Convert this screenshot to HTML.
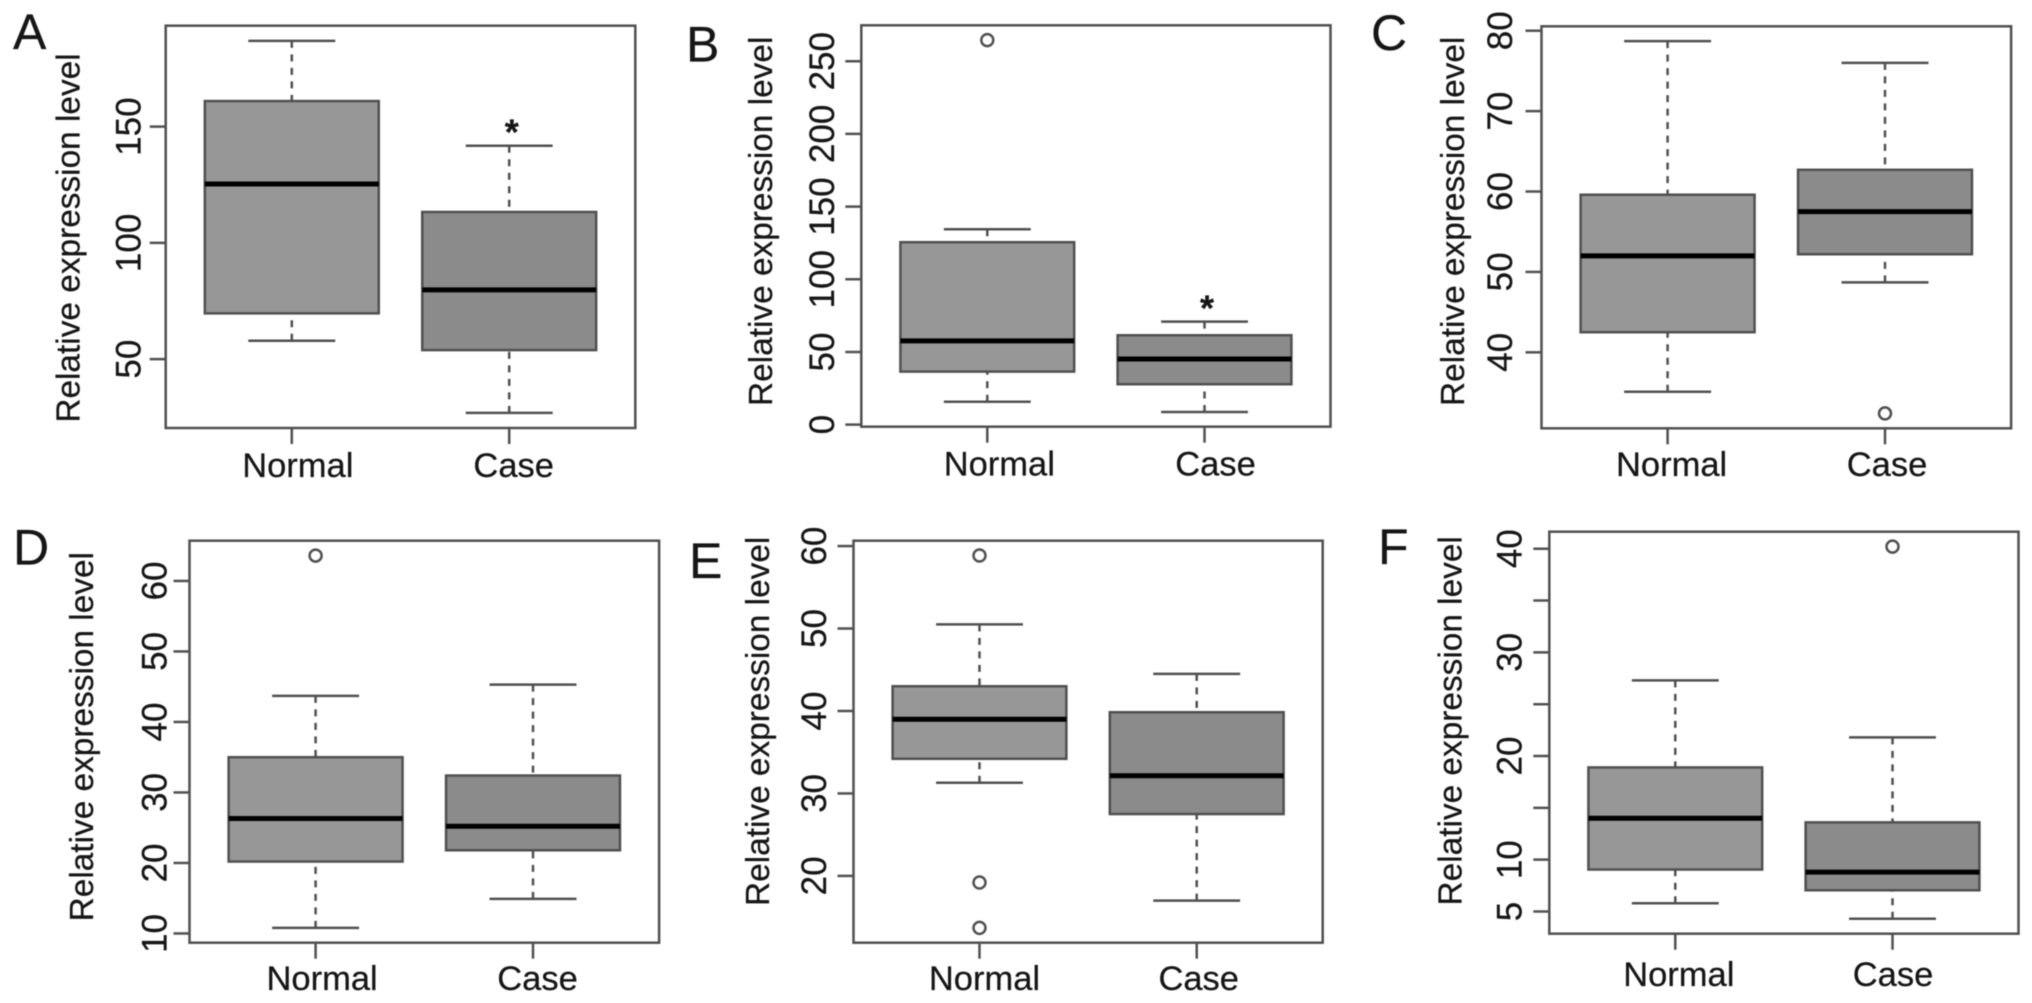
<!DOCTYPE html>
<html lang="en">
<head>
<meta charset="utf-8">
<title>Relative expression level box plots</title>
<style>
  html, body { margin: 0; padding: 0; background: #fff; }
  #figure { display: block; width: 2032px; height: 1003px; filter: blur(0.55px); }
  text { font-family: "Liberation Sans", sans-serif; fill: #161616; stroke: #161616; stroke-width: 0.25px; }
</style>
</head>
<body>
<svg id="figure" xmlns="http://www.w3.org/2000/svg" width="2032" height="1003" viewBox="0 0 2032 1003"></svg>
<script>
// ---- Data: each five-number array is [lower whisker, Q1, median, Q3, upper whisker]
const categories = ['Normal', 'Case'];
const yAxisTitle = 'Relative expression level';

const normalA = [57.9, 69.7, 125.3, 161, 186.9];
const caseA = [26.9, 53.9, 79.8, 113.3, 141.8];
const outliersNormalA = [];
const outliersCaseA = [];
const significantA = [false, true];
const domainA = [20.4, 193.4];
const ticksA = [50, 100, 150];
const tickLabelsA = ['50', '100', '150'];

const normalB = [15.8, 36.5, 57.6, 125.5, 134.4];
const caseB = [8.7, 27.8, 45.2, 61.5, 70.9];
const outliersNormalB = [264.5];
const outliersCaseB = [];
const significantB = [false, true];
const domainB = [-1.4, 274.7];
const ticksB = [0, 50, 100, 150, 200, 250];
const tickLabelsB = ['0', '50', '100', '150', '200', '250'];

const normalC = [35.1, 42.5, 52, 59.6, 78.7];
const caseC = [48.7, 52.2, 57.5, 62.7, 76];
const outliersNormalC = [];
const outliersCaseC = [32.4];
const significantC = [false, false];
const domainC = [30.55, 80.55];
const ticksC = [40, 50, 60, 70, 80];
const tickLabelsC = ['40', '50', '60', '70', '80'];

const normalD = [10.8, 20.2, 26.3, 35, 43.7];
const caseD = [14.9, 21.8, 25.2, 32.4, 45.3];
const outliersNormalD = [63.6];
const outliersCaseD = [];
const significantD = [false, false];
const domainD = [8.69, 65.71];
const ticksD = [10, 20, 30, 40, 50, 60];
const tickLabelsD = ['10', '20', '30', '40', '50', '60'];

const normalE = [31.3, 34.2, 39, 43, 50.5];
const caseE = [17, 27.5, 32.15, 39.85, 44.5];
const outliersNormalE = [58.85, 19.2, 13.7];
const outliersCaseE = [];
const significantE = [false, false];
const domainE = [11.9, 60.65];
const ticksE = [20, 30, 40, 50, 60];
const tickLabelsE = ['20', '30', '40', '50', '60'];

const normalF = [5.8, 9.05, 14, 18.9, 27.3];
const caseF = [4.3, 7.05, 8.8, 13.6, 21.8];
const outliersNormalF = [];
const outliersCaseF = [40.2];
const significantF = [false, false];
const domainF = [2.86, 41.64];
const ticksF = [5, 10, 15, 20, 25, 30, 35, 40];
const tickLabelsF = ['5', '10', '', '20', '', '30', '', '40'];

// ---- Layout
const panelLetters = ['A', 'B', 'C', 'D', 'E', 'F'];
const layoutA = { left: 165.7, right: 635.3, top: 25.7, bottom: 428, letterX: 13, letterY: 49, titleX: 79.4, titleY: 238, tickLabelX: 140.5, catY: 477, catDx: [6, 4.5] };
const layoutB = { left: 861.3, right: 1330.5, top: 25.3, bottom: 426.7, letterX: 686, letterY: 61.7, titleX: 772, titleY: 221.3, tickLabelX: 834, catY: 475.5, catDx: [12, 11] };
const layoutC = { left: 1541.5, right: 2011.1, top: 26.3, bottom: 428.3, letterX: 1371, letterY: 50, titleX: 1463.9, titleY: 221.3, tickLabelX: 1512, catY: 476, catDx: [4, 2] };
const layoutD = { left: 189.5, right: 659.1, top: 540.7, bottom: 942.7, letterX: 13, letterY: 564.7, titleX: 93.2, titleY: 736.7, tickLabelX: 166.5, catY: 990, catDx: [6.5, 4.5] };
const layoutE = { left: 853.5, right: 1322.7, top: 540.7, bottom: 942.7, letterX: 689, letterY: 578, titleX: 768.9, titleY: 721.3, tickLabelX: 826, catY: 990, catDx: [5, 2] };
const layoutF = { left: 1549.3, right: 2018.5, top: 531.7, bottom: 933.7, letterX: 1378, letterY: 564, titleX: 1461.7, titleY: 720.8, tickLabelX: 1521.5, catY: 986, catDx: [3.5, 0.5] };

const panels = [
  { five: [normalA, caseA], out: [outliersNormalA, outliersCaseA], sig: significantA, domain: domainA, ticks: ticksA, labels: tickLabelsA, box: layoutA },
  { five: [normalB, caseB], out: [outliersNormalB, outliersCaseB], sig: significantB, domain: domainB, ticks: ticksB, labels: tickLabelsB, box: layoutB },
  { five: [normalC, caseC], out: [outliersNormalC, outliersCaseC], sig: significantC, domain: domainC, ticks: ticksC, labels: tickLabelsC, box: layoutC },
  { five: [normalD, caseD], out: [outliersNormalD, outliersCaseD], sig: significantD, domain: domainD, ticks: ticksD, labels: tickLabelsD, box: layoutD },
  { five: [normalE, caseE], out: [outliersNormalE, outliersCaseE], sig: significantE, domain: domainE, ticks: ticksE, labels: tickLabelsE, box: layoutE },
  { five: [normalF, caseF], out: [outliersNormalF, outliersCaseF], sig: significantF, domain: domainF, ticks: ticksF, labels: tickLabelsF, box: layoutF }
];

const fills = ['#979797', '#8b8b8b'];
const lineColor = '#505050';
const NS = 'http://www.w3.org/2000/svg';
const root = document.getElementById('figure');

function make(parent, tag, name, attrs, content) {
  const el = document.createElementNS(NS, tag);
  
  
  for (const key in attrs) {
    el.setAttribute(key, attrs[key]);
  }
  if (content !== undefined) {
    el.textContent = content;
  }
  parent.appendChild(el);
  return el;
}

function line(parent, name, x1, y1, x2, y2, extra) {
  return make(parent, 'line', name, Object.assign({
    x1: x1, y1: y1, x2: x2, y2: y2,
    stroke: lineColor, 'stroke-width': 2.5
  }, extra || {}));
}

panels.forEach(function (p, pi) {
  const b = p.box;
  const id = panelLetters[pi].toLowerCase();
  const g = make(root, 'g', 'panel-' + id, {});

  // Axis functions: R-style x limits 0.42..2.58 for two groups
  const xPos = function (i) { return b.left + ((i + 1) - 0.42) / 2.16 * (b.right - b.left); };
  const unit = (b.right - b.left) / 2.16;
  const yPos = function (v) { return b.bottom - (v - p.domain[0]) / (p.domain[1] - p.domain[0]) * (b.bottom - b.top); };

  make(g, 'text', 'panel-label-' + id, { x: b.letterX, y: b.letterY, 'font-size': 50 }, panelLetters[pi]);

  make(g, 'text', 'y-axis-title-' + id, {
    x: b.titleX, y: b.titleY, 'font-size': 33.4, 'text-anchor': 'middle',
    transform: 'rotate(-90 ' + b.titleX + ' ' + b.titleY + ')'
  }, yAxisTitle);

  // Y axis ticks and labels
  p.ticks.forEach(function (t, ti) {
    const y = yPos(t);
    line(g, 'y-tick-' + id + '-' + t, b.left - 16, y, b.left, y);
    if (p.labels[ti]) {
      make(g, 'text', 'y-tick-label-' + id + '-' + t, {
        x: b.tickLabelX, y: y, 'font-size': 35, 'text-anchor': 'middle',
        transform: 'rotate(-90 ' + b.tickLabelX + ' ' + y + ')'
      }, p.labels[ti]);
    }
  });

  // Boxes
  categories.forEach(function (cat, ci) {
    const key = cat.toLowerCase();
    const cx = xPos(ci);
    const f = p.five[ci];
    const halfBox = unit * 0.4;
    const halfCap = unit * 0.2;
    const series = make(g, 'g', 'box-' + key + '-' + id, {});

    const dash = { 'stroke-dasharray': '7 6.5' };
    line(series, 'upper-whisker-' + key + '-' + id, cx, yPos(f[4]), cx, yPos(f[3]), dash);
    line(series, 'lower-whisker-' + key + '-' + id, cx, yPos(f[0]), cx, yPos(f[1]), dash);
    line(series, 'upper-cap-' + key + '-' + id, cx - halfCap, yPos(f[4]), cx + halfCap, yPos(f[4]));
    line(series, 'lower-cap-' + key + '-' + id, cx - halfCap, yPos(f[0]), cx + halfCap, yPos(f[0]));

    make(series, 'rect', 'iqr-box-' + key + '-' + id, {
      x: cx - halfBox, y: yPos(f[3]), width: halfBox * 2, height: yPos(f[1]) - yPos(f[3]),
      fill: fills[ci], stroke: lineColor, 'stroke-width': 2.5
    });
    line(series, 'median-' + key + '-' + id, cx - halfBox, yPos(f[2]), cx + halfBox, yPos(f[2]), {
      stroke: '#000', 'stroke-width': 5
    });

    p.out[ci].forEach(function (v, oi) {
      make(series, 'circle', 'outlier-' + key + '-' + id + '-' + oi, {
        cx: cx, cy: yPos(v), r: 6, fill: 'none', stroke: lineColor, 'stroke-width': 2.5
      });
    });

    if (p.sig[ci]) {
      make(series, 'text', 'significance-star-' + id, {
        x: cx + 2.5, y: yPos(f[4]) - 1, 'font-size': 36, 'font-weight': 'bold', 'text-anchor': 'middle'
      }, '*');
    }

    // X axis tick and label
    line(g, 'x-tick-' + key + '-' + id, cx, b.bottom, cx, b.bottom + 16);
    make(g, 'text', 'x-tick-label-' + key + '-' + id, {
      x: cx + b.catDx[ci], y: b.catY, 'font-size': 34.5, 'text-anchor': 'middle'
    }, cat);
  });

  make(g, 'rect', 'plot-frame-' + id, {
    x: b.left, y: b.top, width: b.right - b.left, height: b.bottom - b.top,
    fill: 'none', stroke: lineColor, 'stroke-width': 2.5
  });
});
</script>
</body>
</html>
